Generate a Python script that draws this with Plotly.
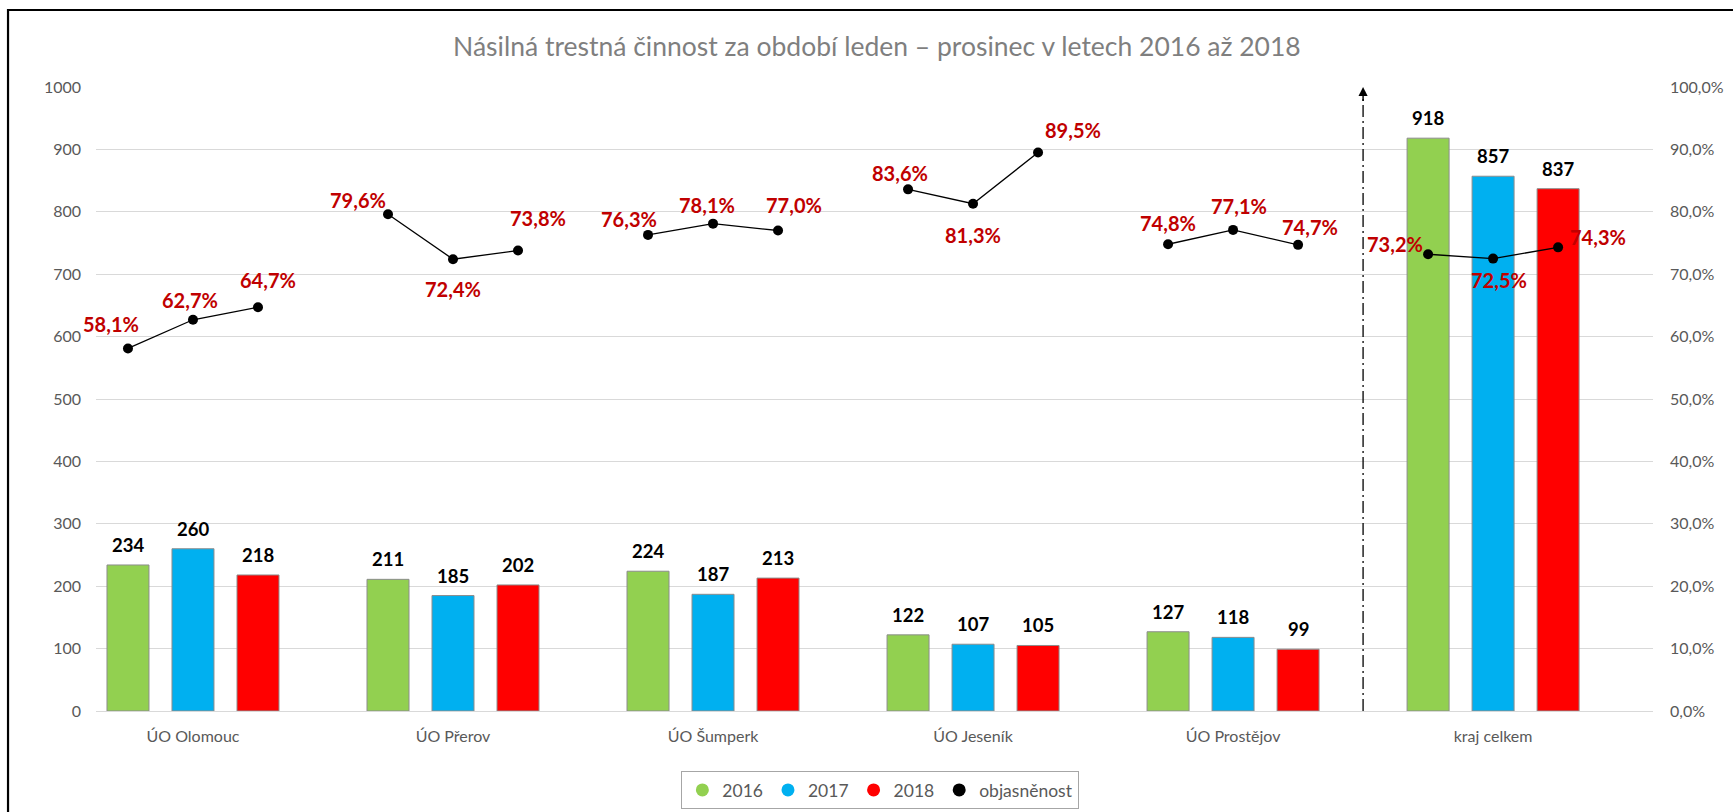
import numpy as np
import plotly.graph_objects as go

# ---------------- data ----------------
categories = ["ÚO Olomouc", "ÚO Přerov", "ÚO Šumperk", "ÚO Jeseník", "ÚO Prostějov", "kraj celkem"]
years = ["2016", "2017", "2018"]
v2016 = [234, 211, 224, 122, 127, 918]
v2017 = [260, 185, 187, 107, 118, 857]
v2018 = [218, 202, 213, 105, 99, 837]
obj2016 = [58.1, 79.6, 76.3, 83.6, 74.8, 73.2]
obj2017 = [62.7, 72.4, 78.1, 81.3, 77.1, 72.5]
obj2018 = [64.7, 73.8, 77.0, 89.5, 74.7, 74.3]
left_ticks = list(range(0, 1001, 100))
right_ticks = list(range(0, 101, 10))
right_ticktext = [(f"{v:.1f}%").replace(".", ",") for v in right_ticks]
line_name = "objasněnost"
title_text = "Násilná trestná činnost za období leden – prosinec v letech 2016 až 2018"

# ---------------- style ----------------
colors = ["#92D050", "#00B0F0", "#FF0000"]
offsets = [-0.25, 0.0, 0.25]
bar_w = 0.1615
FONT = "Lato"
GRAY = "#595959"
LBL_RED = "#C00000"
# label pixel offsets (dx, dy; dy positive = down) per year, per category
lbl_off = [
    [(-17, -24), (-30, -14), (-19, -16), (-8, -16), (0, -21), (-33, -10)],
    [(-3, -20), (0, 30), (-6, -19), (0, 31), (6, -24), (6, 21)],
    [(10, -27), (20, -32), (16, -26), (35, -23), (12, -18), (40, -10)],
]

idx = np.arange(len(categories))
bars = [v2016, v2017, v2018]
objs = [obj2016, obj2017, obj2018]

fig = go.Figure()
for j, (yr, vals) in enumerate(zip(years, bars)):
    fig.add_trace(go.Bar(
        x=idx + offsets[j], y=vals, width=bar_w, name=yr,
        marker=dict(color=colors[j], line=dict(color="#8c8c8c", width=1)),
        showlegend=False, hoverinfo="y",
    ))

# line with breaks between groups
lx, ly = [], []
for g in range(len(categories)):
    for j in range(3):
        lx.append(g + offsets[j])
        ly.append(objs[j][g])
    lx.append(None)
    ly.append(None)
fig.add_trace(go.Scatter(
    x=lx, y=ly, yaxis="y2", mode="lines+markers", name=line_name,
    line=dict(color="black", width=1.3),
    marker=dict(color="black", size=10),
    showlegend=False, connectgaps=False,
))

# legend-only entries (circles)
for j, yr in enumerate(years):
    fig.add_trace(go.Scatter(x=[None], y=[None], mode="markers", name=yr,
                             marker=dict(color=colors[j], size=13, symbol="circle")))
fig.add_trace(go.Scatter(x=[None], y=[None], mode="markers", name=line_name,
                         marker=dict(color="black", size=13, symbol="circle")))

annotations = []
# bar value labels
for j in range(3):
    for g in range(len(categories)):
        annotations.append(dict(
            x=g + offsets[j], y=bars[j][g], xref="x", yref="y",
            text=str(bars[j][g]), showarrow=False, yanchor="middle",
            yshift=20, font=dict(family=FONT, size=18.5, color="black", weight="bold"),
        ))
# percentage labels
for j in range(3):
    for g in range(len(categories)):
        dx, dy = lbl_off[j][g]
        annotations.append(dict(
            x=g + offsets[j], y=objs[j][g], xref="x", yref="y2",
            text=(f"{objs[j][g]:.1f}%").replace(".", ","), showarrow=False,
            xanchor="center", yanchor="middle", xshift=dx, yshift=-dy,
            font=dict(family=FONT, size=20, color=LBL_RED, weight="bold"),
        ))
# arrow head at the top of the separator line
sep_x = (len(categories) - 2) + 0.5
annotations.append(dict(
    x=sep_x, y=left_ticks[-1], xref="x", yref="y", ax=sep_x, ay=left_ticks[-1] - 25,
    axref="x", ayref="y", showarrow=True, arrowhead=2, arrowsize=1.3,
    arrowwidth=1.4, arrowcolor="black", text="", standoff=0,
))

shapes = [
    dict(type="line", xref="x", yref="y", x0=sep_x, x1=sep_x, y0=0, y1=left_ticks[-1] - 15,
         line=dict(color="black", width=1.3, dash="12px,4px,2px,4px")),
    dict(type="rect", xref="paper", yref="paper", x0=-0.0565, y0=-0.3, x1=1.3, y1=1.1234,
         line=dict(color="black", width=2.2), fillcolor="rgba(0,0,0,0)", layer="above"),
]

fig.update_layout(
    width=1733, height=812, autosize=False,
    margin=dict(l=96, r=80, t=87, b=101, autoexpand=False),
    paper_bgcolor="white", plot_bgcolor="white",
    title=dict(text=title_text, x=0.506, xanchor="center", y=1 - 47 / 812, yanchor="middle",
               font=dict(family=FONT, size=26.5, color="#7f7f7f")),
    barmode="overlay",
    xaxis=dict(range=[-0.373, 5.615], tickvals=list(idx), ticktext=categories,
               showgrid=False, zeroline=False, showline=False, ticks="",
               tickfont=dict(family=FONT, size=16, color=GRAY), ticklabelstandoff=14),
    yaxis=dict(range=[0, 1000], tickvals=left_ticks, tickformat="d",
               showgrid=True, gridcolor="#d9d9d9", gridwidth=1, zeroline=True,
               zerolinecolor="#d9d9d9", zerolinewidth=1,
               tickfont=dict(family=FONT, size=16, color=GRAY), ticklabelstandoff=14),
    yaxis2=dict(range=[0, 100], tickvals=right_ticks, ticktext=right_ticktext,
                overlaying="y", side="right", showgrid=False, zeroline=False,
                tickfont=dict(family=FONT, size=16, color=GRAY), ticklabelstandoff=16),
    legend=dict(orientation="h", xref="container", yref="container",
                x=0.508, xanchor="center", y=1 - 790 / 812, yanchor="middle",
                bordercolor="#a6a6a6", borderwidth=1, bgcolor="white",
                font=dict(family=FONT, size=17.5, color=GRAY), itemwidth=30,
                traceorder="normal"),
    annotations=annotations,
    shapes=shapes,
)

fig.write_html("out.html", config={"displayModeBar": False},
               post_script="document.body.style.margin='0';")
